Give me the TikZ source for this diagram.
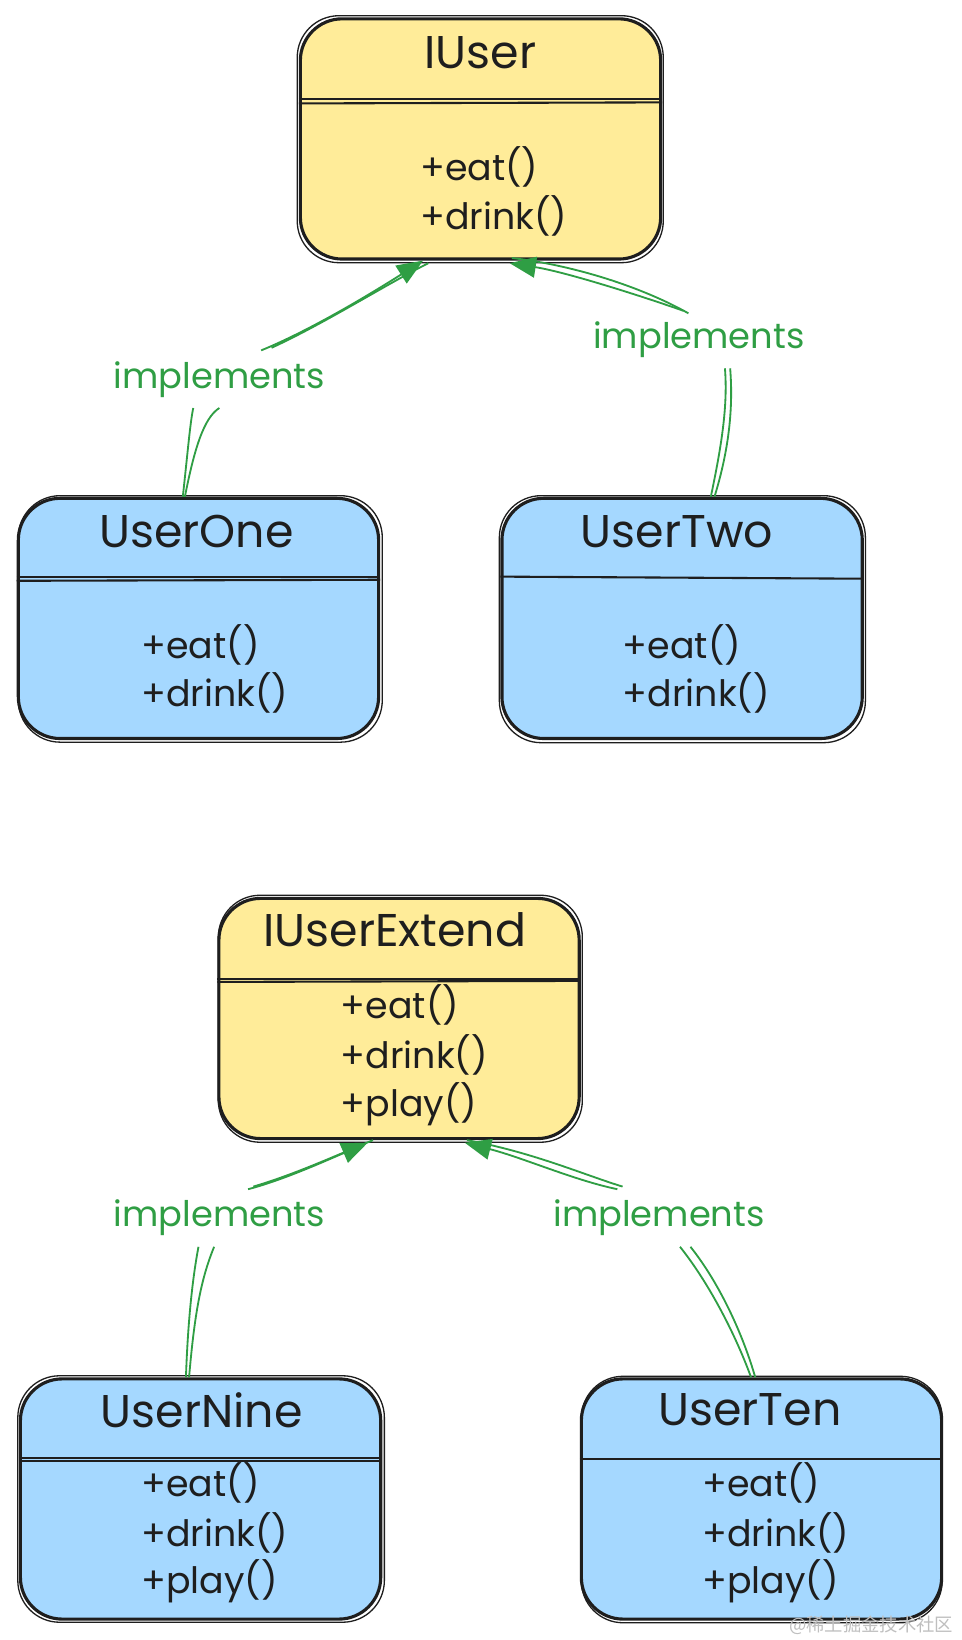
\documentclass[tikz,border=0pt]{standalone}
\usepackage{fontspec}
\setmainfont{Poppins}
\newfontfamily\cjkfont{Noto Sans CJK SC}
\usetikzlibrary{arrows.meta,calc}
\definecolor{boxyellow}{HTML}{FFEC99}
\definecolor{boxblue}{HTML}{A5D8FF}
\definecolor{linegreen}{HTML}{2F9E44}
\definecolor{inkblack}{HTML}{1E1E1E}
\tikzset{
  classbox/.style={draw=inkblack, line width=0.06cm, rounded corners=0.8cm,
    minimum width=6.9cm, minimum height=4.6cm, inner sep=0pt},
  sketchline/.style={draw=inkblack, line width=0.025cm, rounded corners=0.8cm},
  titletext/.style={font=\fontsize{25}{30}\selectfont, text=inkblack, inner sep=0pt},
  methodtext/.style={font=\fontsize{19.8}{27}\selectfont, text=inkblack, inner sep=0pt,
    anchor=west, align=left},
  divider/.style={draw=inkblack, line width=0.04cm},
  labeltext/.style={font=\fontsize{19.2}{23}\selectfont, text=linegreen, inner sep=0pt},
  conn/.style={draw=linegreen, line width=0.035cm},
  connarrow/.style={conn, -{Triangle[length=0.5cm,width=0.4cm]}},
}
\begin{document}
\begin{tikzpicture}[x=0.02cm,y=-0.02cm]
\fill[white] (0,0) rectangle (920,1570);
\useasboundingbox (0,0) rectangle (920,1570);

% ---------- boxes ----------
\node[classbox, fill=boxyellow] (iuser) at (460,133) {};
\node[classbox, fill=boxblue] (userone) at (190,592) {};
\node[classbox, fill=boxblue] (usertwo) at (653,592) {};
\node[classbox, fill=boxyellow] (iuserext) at (382,975) {};
\node[classbox, fill=boxblue] (usernine) at (192,1435) {};
\node[classbox, fill=boxblue] (userten) at (729,1435) {};

% sketchy second strokes
\draw[sketchline] ([shift={(-1.5,2)}]iuser.south west) rectangle ([shift={(1,-1.5)}]iuser.north east);
\draw[sketchline] ([shift={(1.5,2)}]userone.south west) rectangle ([shift={(2,-1)}]userone.north east);
\draw[sketchline] ([shift={(-1,2.5)}]usertwo.south west) rectangle ([shift={(1.5,-1)}]usertwo.north east);
\draw[sketchline] ([shift={(1,2)}]iuserext.south west) rectangle ([shift={(1.5,-1.5)}]iuserext.north east);
\draw[sketchline] ([shift={(-1,1.5)}]usernine.south west) rectangle ([shift={(2,-1.5)}]usernine.north east);
\draw[sketchline] ([shift={(1.5,2)}]userten.south west) rectangle ([shift={(-1,-1)}]userten.north east);

% dividers
\draw[divider] (iuser.west |- 0,95) -- (iuser.east |- 0,95);
\draw[divider] (iuser.west |- 0,99) -- (iuser.east |- 0,98);
\draw[divider] (userone.west |- 0,552) -- (userone.east |- 0,552);
\draw[divider] (userone.west |- 0,556) -- (userone.east |- 0,555);
\draw[divider] (usertwo.west |- 0,552) -- (usertwo.east |- 0,554);
\draw[divider] (iuserext.west |- 0,937) -- (iuserext.east |- 0,937);
\draw[divider] (iuserext.west |- 0,940) -- (iuserext.east |- 0,939);
\draw[divider] (usernine.west |- 0,1396) -- (usernine.east |- 0,1396);
\draw[divider] (usernine.west |- 0,1399) -- (usernine.east |- 0,1399);
\draw[divider] (userten.west |- 0,1397) -- (userten.east |- 0,1397);

% titles
\node[titletext] (t1) at (460,50) {IUser};
\node[titletext] (t2) at (188,509) {UserOne};
\node[titletext] (t3) at (648,509) {UserTwo};
\node[titletext] (t4) at (378,890) {IUserExtend};
\node[titletext] (t5) at (193,1350) {UserNine};
\node[titletext] (t6) at (718,1350) {UserTen};

% methods
\node[methodtext] (m1a) at (402,160) {+eat()};
\node[methodtext] (m1b) at (402,207) {+drink()};
\node[methodtext] (m2a) at (135,617) {+eat()};
\node[methodtext] (m2b) at (135,663) {+drink()};
\node[methodtext] (m3a) at (596,617) {+eat()};
\node[methodtext] (m3b) at (596,663) {+drink()};
\node[methodtext] (m4a) at (326,962) {+eat()};
\node[methodtext] (m4b) at (326,1010) {+drink()};
\node[methodtext] (m4c) at (326,1057) {+play()};
\node[methodtext] (m5a) at (135,1420) {+eat()};
\node[methodtext] (m5b) at (135,1467) {+drink()};
\node[methodtext] (m5c) at (135,1514) {+play()};
\node[methodtext] (m6a) at (672,1420) {+eat()};
\node[methodtext] (m6b) at (672,1467) {+drink()};
\node[methodtext] (m6c) at (672,1514) {+play()};

% ---------- labels ----------
\node[labeltext] (lab1) at (210,363) {implements};
\node[labeltext] (lab2) at (669,325) {implements};
\node[labeltext] (lab3) at (210,1166) {implements};
\node[labeltext] (lab4) at (631,1166) {implements};

% ---------- connectors ----------
% UserOne -> IUser
\draw[conn] ([xshift=-0.3cm]userone.north) .. controls (180,430) and (182,405) .. ([xshift=-0.5cm,yshift=-0.2cm]lab1.south);
\draw[conn] ([xshift=-0.26cm]userone.north) .. controls (186,430) and (195,400) .. ([xshift=0cm,yshift=-0.2cm]lab1.south);
\draw[connarrow] ([xshift=0.8cm,yshift=0.2cm]lab1.north) .. controls (300,315) and (360,278) .. ([xshift=-1.1cm]iuser.south);
\draw[conn] ([xshift=1.0cm,yshift=0.25cm]lab1.north) .. controls (310,310) and (370,272) .. ([xshift=-1.0cm,yshift=-0.05cm]iuser.south);

% UserTwo -> IUser
\draw[conn] ([xshift=0.55cm]usertwo.north) .. controls (690,430) and (697,390) .. ([xshift=0.5cm,yshift=-0.2cm]lab2.south);
\draw[conn] ([xshift=0.62cm]usertwo.north) .. controls (698,430) and (702,390) .. ([xshift=0.6cm,yshift=-0.2cm]lab2.south);
\draw[connarrow] ([xshift=-0.3cm,yshift=0.2cm]lab2.north) .. controls (610,282) and (540,260) .. ([xshift=0.56cm,yshift=-0.05cm]iuser.south);
\draw[conn] ([xshift=-0.2cm,yshift=0.15cm]lab2.north) .. controls (615,275) and (550,254) .. ([xshift=0.6cm,yshift=0.05cm]iuser.south);

% UserNine -> IUserExtend
\draw[conn] ([xshift=-0.28cm]usernine.north) .. controls (180,1260) and (185,1220) .. ([xshift=-0.4cm,yshift=-0.2cm]lab3.south);
\draw[conn] ([xshift=-0.22cm]usernine.north) .. controls (186,1260) and (192,1225) .. ([xshift=-0.1cm,yshift=-0.2cm]lab3.south);
\draw[connarrow] ([xshift=0.55cm,yshift=0.2cm]lab3.north) .. controls (270,1130) and (310,1112) .. ([xshift=-0.6cm,yshift=-0.05cm]iuserext.south);
\draw[conn] ([xshift=0.65cm,yshift=0.25cm]lab3.north) .. controls (280,1125) and (320,1107) .. ([xshift=-0.5cm]iuserext.south);

% UserTen -> IUserExtend
\draw[conn] ([xshift=-0.2cm]userten.north) .. controls (705,1280) and (680,1230) .. ([xshift=0.4cm,yshift=-0.2cm]lab4.south);
\draw[conn] ([xshift=-0.12cm]userten.north) .. controls (712,1280) and (690,1230) .. ([xshift=0.6cm,yshift=-0.2cm]lab4.south);
\draw[connarrow] ([xshift=-0.8cm,yshift=0.2cm]lab4.north) .. controls (550,1130) and (500,1108) .. ([xshift=1.26cm,yshift=-0.05cm]iuserext.south);
\draw[conn] ([xshift=-0.7cm,yshift=0.25cm]lab4.north) .. controls (560,1125) and (510,1103) .. ([xshift=1.3cm]iuserext.south);

% watermark
\node[font=\cjkfont\fontsize{10}{12}\selectfont, text=black!25, anchor=east, inner sep=0pt] (wm) at (913,1556) {@稀土掘金技术社区};
\end{tikzpicture}
\end{document}
